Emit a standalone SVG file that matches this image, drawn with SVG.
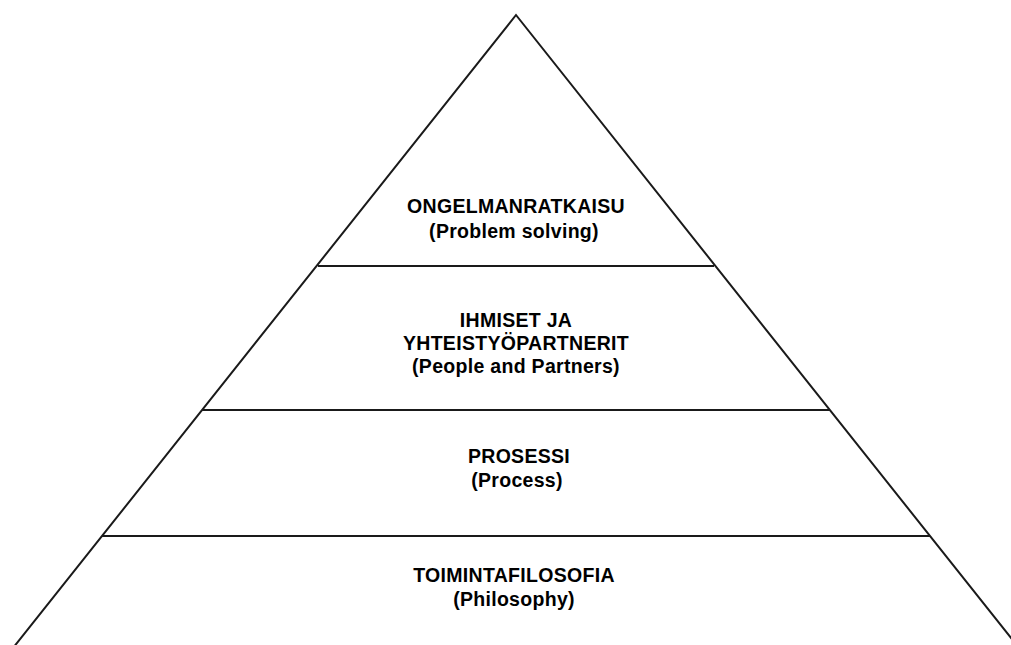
<svg xmlns="http://www.w3.org/2000/svg" width="1011" height="645" viewBox="0 0 1011 645">
<style>
.t{font-family:"Liberation Sans",Arial,sans-serif;font-weight:bold;font-size:19.5px;letter-spacing:0.3px;fill:#000;text-anchor:middle}
.e{stroke:#1a1a1a;stroke-width:2;fill:none}
</style>
<rect width="1011" height="645" fill="#fff"/>
<g id="connectors">
<polyline class="e" points="13,648 516,15 1019,648"/>
<line class="e" x1="318" y1="266" x2="714" y2="266"/>
<line class="e" x1="202" y1="410" x2="830" y2="410"/>
<line class="e" x1="102" y1="536" x2="930" y2="536"/>
</g>
<g id="n1"><text class="t" x="516" y="213">ONGELMANRATKAISU</text><text class="t" x="514" y="238">(Problem solving)</text></g>
<g id="n2"><text class="t" x="516" y="327">IHMISET JA</text><text class="t" x="516" y="350">YHTEISTYÖPARTNERIT</text><text class="t" x="516" y="373">(People and Partners)</text></g>
<g id="n3"><text class="t" x="519" y="463">PROSESSI</text><text class="t" x="517" y="487">(Process)</text></g>
<g id="n4"><text class="t" x="514" y="582">TOIMINTAFILOSOFIA</text><text class="t" x="514" y="606">(Philosophy)</text></g>
</svg>
